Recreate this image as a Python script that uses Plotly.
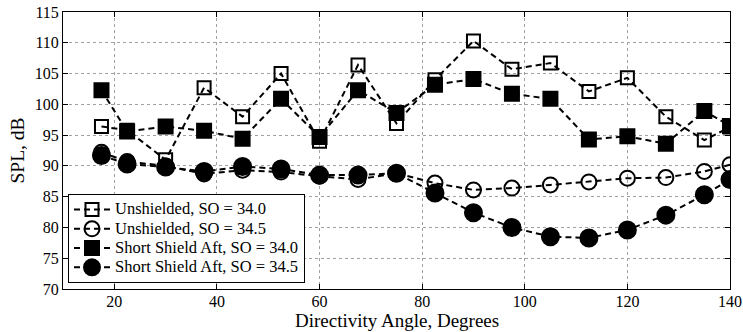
import plotly.graph_objects as go

angles = [17.5, 22.5, 30, 37.5, 45, 52.5, 60, 67.5, 75, 82.5, 90, 97.5, 105, 112.5, 120, 127.5, 135, 140]
unsh_340 = [96.4, 95.8, 91.0, 102.7, 98.0, 105.0, 94.0, 106.4, 96.9, 104.0, 110.3, 105.7, 106.7, 102.1, 104.3, 98.0, 94.2, 96.3]
unsh_345 = [92.2, 90.7, 90.0, 88.7, 89.3, 89.0, 88.3, 87.8, 88.8, 87.2, 86.1, 86.4, 86.9, 87.4, 88.0, 88.1, 89.1, 90.2]
ssa_340 = [102.3, 95.6, 96.4, 95.7, 94.4, 100.9, 94.7, 102.3, 98.6, 103.2, 104.1, 101.7, 100.9, 94.3, 94.8, 93.6, 98.9, 96.5]
ssa_345 = [91.7, 90.3, 89.8, 89.1, 89.9, 89.5, 88.5, 88.5, 88.8, 85.6, 82.4, 80.0, 78.5, 78.3, 79.6, 82.0, 85.3, 87.8]

names = ["Unshielded, SO = 34.0", "Unshielded, SO = 34.5",
         "Short Shield Aft, SO = 34.0", "Short Shield Aft, SO = 34.5"]
series = [unsh_340, unsh_345, ssa_340, ssa_345]
symbols = ["square-open", "circle-open", "square", "circle"]
sizes = [13, 15, 14, 17]

fig = go.Figure()
for n, s, sym, sz in zip(names, series, symbols, sizes):
    fig.add_trace(go.Scatter(
        x=angles, y=s, name='<span style="font-size:16.5px">' + n + '</span>',
        mode="lines+markers",
        line=dict(color="black", width=2, dash="6px,4px"),
        marker=dict(symbol=sym, size=sz, color="black",
                    line=dict(color="black", width=2)),
    ))

font = "Liberation Serif, Times New Roman, serif"
axis_common = dict(
    showline=True, linecolor="black", linewidth=1, mirror="ticks",
    ticks="inside", ticklen=5, tickcolor="black",
    showgrid=True, gridcolor="#a0a0a0", griddash="dot", gridwidth=1,
    zeroline=False, automargin=False,
    tickfont=dict(family=font, size=16, color="black"),
)
fig.update_xaxes(range=[10, 140], tickvals=[20, 40, 60, 80, 100, 120, 140],
                 ticklabelstandoff=-2, **axis_common)
fig.update_yaxes(range=[70, 115], tickvals=list(range(70, 116, 5)),
                 title=dict(text="SPL, dB",
                            font=dict(family=font, size=19.5, color="black"), standoff=4),
                 **axis_common)
fig.add_annotation(text="Directivity Angle, Degrees", xref="paper", yref="paper",
                   x=0.5, y=-43 / 277, xanchor="center", yanchor="bottom",
                   yshift=0, showarrow=False, borderpad=0,
                   font=dict(family=font, size=19, color="black"))
fig.update_layout(
    width=743, height=332,
    margin=dict(l=63, r=13, t=12, b=43),
    plot_bgcolor="white", paper_bgcolor="white",
    font=dict(family=font, color="black"),
    legend=dict(x=0.0075, y=0.022, xanchor="left", yanchor="bottom",
                bgcolor="white", bordercolor="black", borderwidth=1,
                font=dict(family=font, size=12.5, color="black"),
                tracegroupgap=0, itemwidth=36),
    showlegend=True,
)
fig.write_html("out.html")
